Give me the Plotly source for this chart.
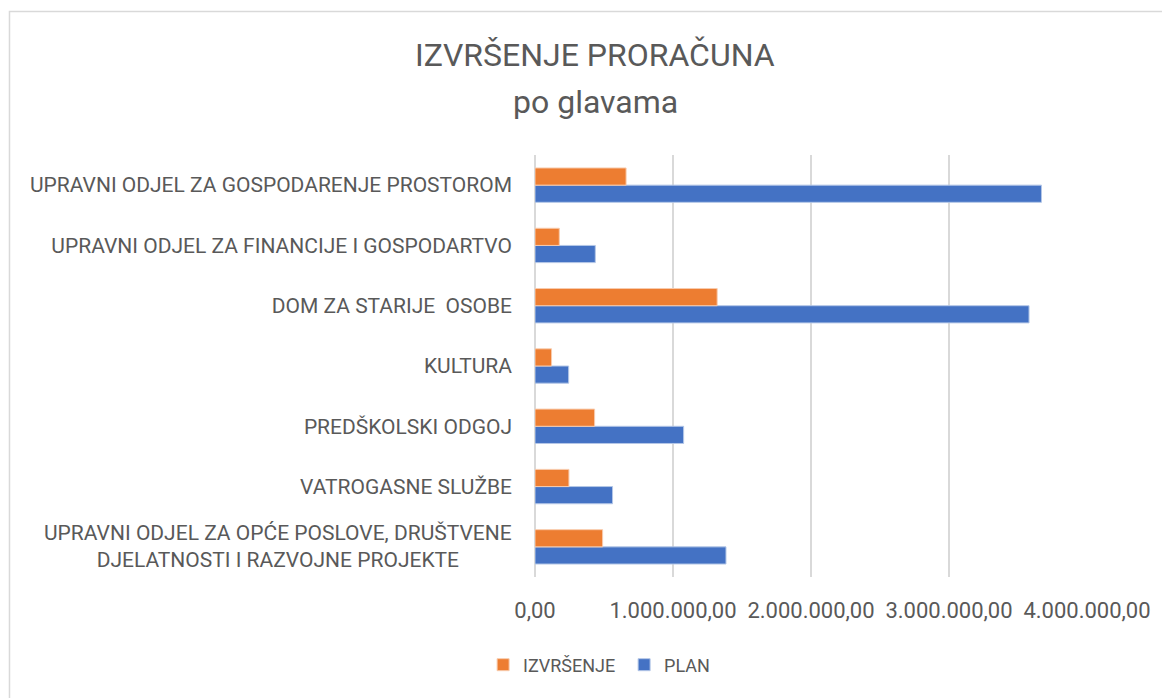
import plotly.graph_objects as go

categories = [
    "UPRAVNI ODJEL ZA OPĆE POSLOVE, DRUŠTVENE<br>DJELATNOSTI I RAZVOJNE PROJEKTE",
    "VATROGASNE SLUŽBE",
    "PREDŠKOLSKI ODGOJ",
    "KULTURA",
    "DOM ZA STARIJE  OSOBE",
    "UPRAVNI ODJEL ZA FINANCIJE I GOSPODARTVO",
    "UPRAVNI ODJEL ZA GOSPODARENJE PROSTOROM",
]
izvrsenje = [490000, 246000, 432000, 120000, 1320000, 176000, 660000]
plan = [1384000, 562000, 1077000, 244000, 3580000, 437000, 3670000]
tick_vals = [0, 1000000, 2000000, 3000000, 4000000]
tick_text = ["0,00", "1.000.000,00", "2.000.000,00", "3.000.000,00", "4.000.000,00"]

FONT = "Roboto, Arial"
GREY = "#595959"

fig = go.Figure()
fig.add_trace(go.Bar(y=categories, x=plan, orientation="h", name="PLAN",
                     marker=dict(color="#4472C4", line=dict(color="#b4c7e7", width=1)),
                     legendrank=2))
fig.add_trace(go.Bar(y=categories, x=izvrsenje, orientation="h", name="IZVRŠENJE",
                     marker=dict(color="#ED7D31", line=dict(color="#f8cbad", width=1)),
                     legendrank=1))

ticktext_y = ["" if "<br>" in c else c for c in categories]

fig.update_layout(
    width=1170, height=698,
    barmode="group", bargap=0.43, bargroupgap=0,
    plot_bgcolor="white", paper_bgcolor="white",
    margin=dict(l=527, r=91, t=147, b=129, autoexpand=False),
    font=dict(family=FONT, color=GREY, size=21),
    xaxis=dict(range=[0, 4000000], tickvals=tick_vals, ticktext=tick_text,
               showgrid=True, gridcolor="#d9d9d9", gridwidth=1.5,
               zeroline=True, zerolinecolor="#d9d9d9", zerolinewidth=1.5,
               showline=False, ticks="", tickfont=dict(size=22, color=GREY),
               ticklabelstandoff=18),
    yaxis=dict(categoryorder="array", categoryarray=categories,
               tickmode="array", tickvals=categories, ticktext=ticktext_y,
               showgrid=False, showline=False, ticks="", ticklabelstandoff=22,
               tickfont=dict(size=21, color=GREY)),
    legend=dict(orientation="h", x=-0.094, xanchor="left", y=-0.2085, yanchor="middle",
                font=dict(size=18, color=GREY), itemwidth=30, traceorder="normal",
                entrywidth=96, entrywidthmode="pixels"),
    showlegend=True,
)

fig.add_annotation(text=categories[0], xref="paper", x=0, xanchor="right", xshift=-21,
                   yref="y", y=categories[0], showarrow=False, align="center",
                   font=dict(size=21, color=GREY, family=FONT))

fig.add_annotation(text="IZVRŠENJE PRORAČUNA", xref="paper", x=0.109, xanchor="center",
                   yref="paper", y=1.237, yanchor="middle", showarrow=False,
                   font=dict(size=32, color=GREY, family=FONT))
fig.add_annotation(text="po glavama", xref="paper", x=0.109, xanchor="center",
                   yref="paper", y=1.126, yanchor="middle", showarrow=False,
                   font=dict(size=32, color=GREY, family=FONT))

fig.add_shape(type="rect", xref="paper", yref="paper", x0=-0.952, x1=1.2, y0=-0.4, y1=1.340,
              line=dict(color="#d9d9d9", width=1.5), fillcolor="rgba(0,0,0,0)", layer="below")

fig.write_html("out.html")
